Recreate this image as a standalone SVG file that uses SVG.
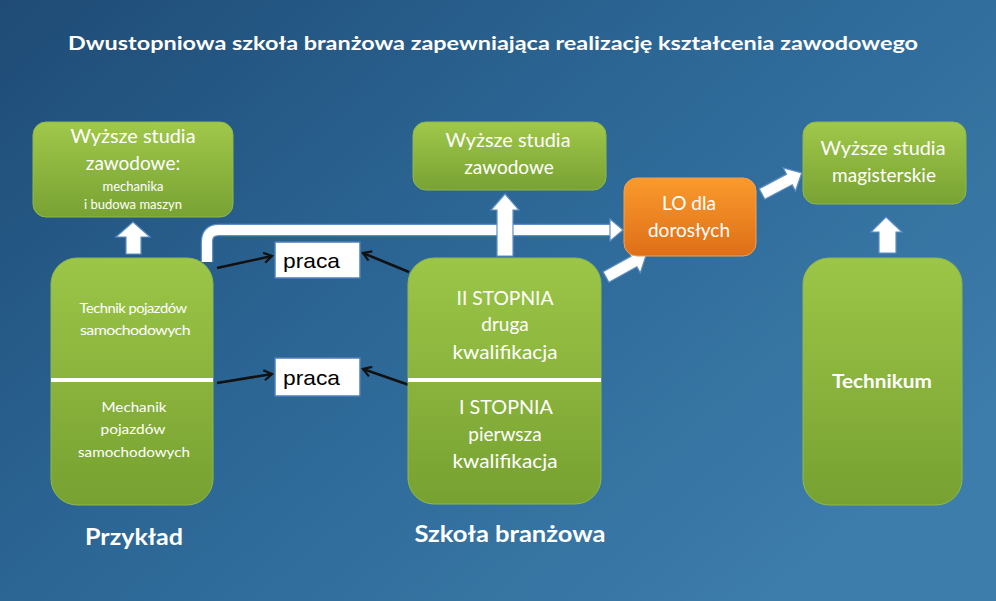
<svg xmlns="http://www.w3.org/2000/svg" width="996" height="601" viewBox="0 0 996 601">
<defs>
<linearGradient id="bg" x1="0" y1="0" x2="1" y2="0.7">
<stop offset="0" stop-color="#1f4b76"/>
<stop offset="0.5" stop-color="#2c6796"/>
<stop offset="1" stop-color="#3d7dab"/>
</linearGradient>
<linearGradient id="gr" x1="0" y1="0" x2="0" y2="1">
<stop offset="0" stop-color="#a0c84a"/>
<stop offset="1" stop-color="#78a233"/>
</linearGradient>
<linearGradient id="grBig" x1="0" y1="0" x2="0" y2="1">
<stop offset="0" stop-color="#9cc647"/>
<stop offset="1" stop-color="#77a131"/>
</linearGradient>
<linearGradient id="or" x1="0" y1="0" x2="0" y2="1">
<stop offset="0" stop-color="#fa9a2c"/>
<stop offset="1" stop-color="#de6f18"/>
</linearGradient>
<marker id="ah" viewBox="0 0 12 12" refX="10" refY="6" markerWidth="12" markerHeight="12" markerUnits="userSpaceOnUse" orient="auto">
<path d="M2,1 L10,6 L2,11" fill="none" stroke="#111" stroke-width="2.2"/>
</marker>
</defs>
<style>
.t{font-family:Lato,"Open Sans","Liberation Sans",sans-serif;fill:#fff;text-anchor:middle}
.b{font-weight:bold}
.p{font-family:"Liberation Sans",Arial,sans-serif;fill:#000;font-size:21px}
.wa{fill:#fff;stroke:#5f8fc4;stroke-width:1.2}
.bl{stroke:#111;stroke-width:2.5;fill:none;marker-end:url(#ah)}
.box{stroke:#8fb84a;stroke-width:1}
</style>
<rect width="996" height="601" fill="url(#bg)"/>
<text class="t b" x="493" y="50" font-size="19" textLength="850" lengthAdjust="spacingAndGlyphs">Dwustopniowa szkoła branżowa zapewniająca realizację kształcenia zawodowego</text>

<g id="connectors">
<path d="M207,262 V242 Q207,230 219,230 H611" fill="none" stroke="#5f8fc4" stroke-width="12.5"/>
<path d="M207,262 V242 Q207,230 219,230 H612" fill="none" stroke="#fff" stroke-width="10"/>
<polygon class="wa" points="610,219 623,230 610,241"/>
<polygon class="wa" points="126,254 126,237 116,237 133,222 150,237 141,237 141,254"/>
<polygon class="wa" points="497,256 497,210 491,210 505,194 519,210 513,210 513,256"/>
<polygon class="wa" points="879,253 879,232 871,232 886,217 902,232 896,232 896,253"/>
<polygon class="wa" transform="translate(606,277) rotate(-29)" points="0,-6 32,-6 32,-13 46,0 32,13 32,6 0,6"/>
<polygon class="wa" transform="translate(762,194) rotate(-28)" points="0,-6 31,-6 31,-13 45,0 31,13 31,6 0,6"/>
<line class="bl" x1="217" y1="268" x2="272" y2="256"/>
<line class="bl" x1="409" y1="272" x2="363" y2="253"/>
<line class="bl" x1="217" y1="383" x2="272" y2="374"/>
<line class="bl" x1="409" y1="385" x2="363" y2="369"/>
</g>

<g id="wyzsze-mechanika">
<rect class="box" x="33" y="122" width="200" height="95" rx="13" fill="url(#gr)"/>
<text class="t" x="133" y="143" font-size="19" textLength="125" lengthAdjust="spacingAndGlyphs">Wyższe studia</text>
<text class="t" x="133" y="170" font-size="19">zawodowe:</text>
<text class="t" x="133" y="191" font-size="13">mechanika</text>
<text class="t" x="133" y="209" font-size="13">i budowa maszyn</text>
</g>

<g id="wyzsze-zawodowe">
<rect class="box" x="413" y="122" width="193" height="68" rx="13" fill="url(#gr)"/>
<text class="t" x="508" y="147" font-size="19" textLength="125" lengthAdjust="spacingAndGlyphs">Wyższe studia</text>
<text class="t" x="509" y="174" font-size="19">zawodowe</text>
</g>

<g id="wyzsze-magisterskie">
<rect class="box" x="803" y="122" width="163" height="82" rx="13" fill="url(#gr)"/>
<text class="t" x="883" y="155" font-size="19" textLength="125" lengthAdjust="spacingAndGlyphs">Wyższe studia</text>
<text class="t" x="884" y="182" font-size="19">magisterskie</text>
</g>

<g id="lo-dorosli">
<rect x="624" y="178" width="132" height="78" rx="13" fill="url(#or)" stroke="#f3a050" stroke-width="1"/>
<text class="t" x="689" y="210" font-size="19" textLength="54" lengthAdjust="spacingAndGlyphs">LO dla</text>
<text class="t" x="689" y="237" font-size="19">dorosłych</text>
</g>

<g id="przyklad">
<rect class="box" x="51" y="258" width="162" height="247" rx="26" fill="url(#grBig)"/>
<rect x="51" y="378" width="162" height="4" fill="#fff"/>
<text class="t" x="133" y="313" font-size="14" textLength="107" lengthAdjust="spacingAndGlyphs" letter-spacing="-0.5">Technik pojazdów</text>
<text class="t" x="135" y="335" font-size="14" textLength="110" lengthAdjust="spacingAndGlyphs" letter-spacing="-0.5">samochodowych</text>
<text class="t" x="134" y="412" font-size="14" textLength="65" lengthAdjust="spacingAndGlyphs">Mechanik</text>
<text class="t" x="133" y="434" font-size="14" textLength="65" lengthAdjust="spacingAndGlyphs">pojazdów</text>
<text class="t" x="134" y="457" font-size="14" textLength="112" lengthAdjust="spacingAndGlyphs">samochodowych</text>
<text class="t b" x="134" y="545" font-size="23" textLength="98" lengthAdjust="spacingAndGlyphs">Przykład</text>
</g>

<g id="szkola-branzowa">
<rect class="box" x="408" y="258" width="193" height="246" rx="26" fill="url(#grBig)"/>
<rect x="408" y="378" width="193" height="4" fill="#fff"/>
<text class="t" x="505" y="305" font-size="19" textLength="97" lengthAdjust="spacingAndGlyphs">II STOPNIA</text>
<text class="t" x="505" y="331" font-size="19">druga</text>
<text class="t" x="505" y="359" font-size="19" textLength="105" lengthAdjust="spacingAndGlyphs">kwalifikacja</text>
<text class="t" x="506" y="414" font-size="19" textLength="94" lengthAdjust="spacingAndGlyphs">I STOPNIA</text>
<text class="t" x="505" y="441" font-size="19">pierwsza</text>
<text class="t" x="505" y="468" font-size="19" textLength="105" lengthAdjust="spacingAndGlyphs">kwalifikacja</text>
<text class="t b" x="510" y="542" font-size="23" textLength="191" lengthAdjust="spacingAndGlyphs">Szkoła branżowa</text>
</g>

<g id="technikum">
<rect class="box" x="803" y="258" width="159" height="247" rx="26" fill="url(#grBig)"/>
<text class="t b" x="882" y="388" font-size="19" textLength="100" lengthAdjust="spacingAndGlyphs">Technikum</text>
</g>

<g id="praca-1">
<rect x="275" y="242" width="85" height="36" fill="#fff" stroke="#4d7fb8" stroke-width="1.5"/>
<text class="p" x="283" y="268" textLength="57" lengthAdjust="spacingAndGlyphs">praca</text>
</g>
<g id="praca-2">
<rect x="275" y="358" width="85" height="38" fill="#fff" stroke="#4d7fb8" stroke-width="1.5"/>
<text class="p" x="283" y="385" textLength="57" lengthAdjust="spacingAndGlyphs">praca</text>
</g>
</svg>
